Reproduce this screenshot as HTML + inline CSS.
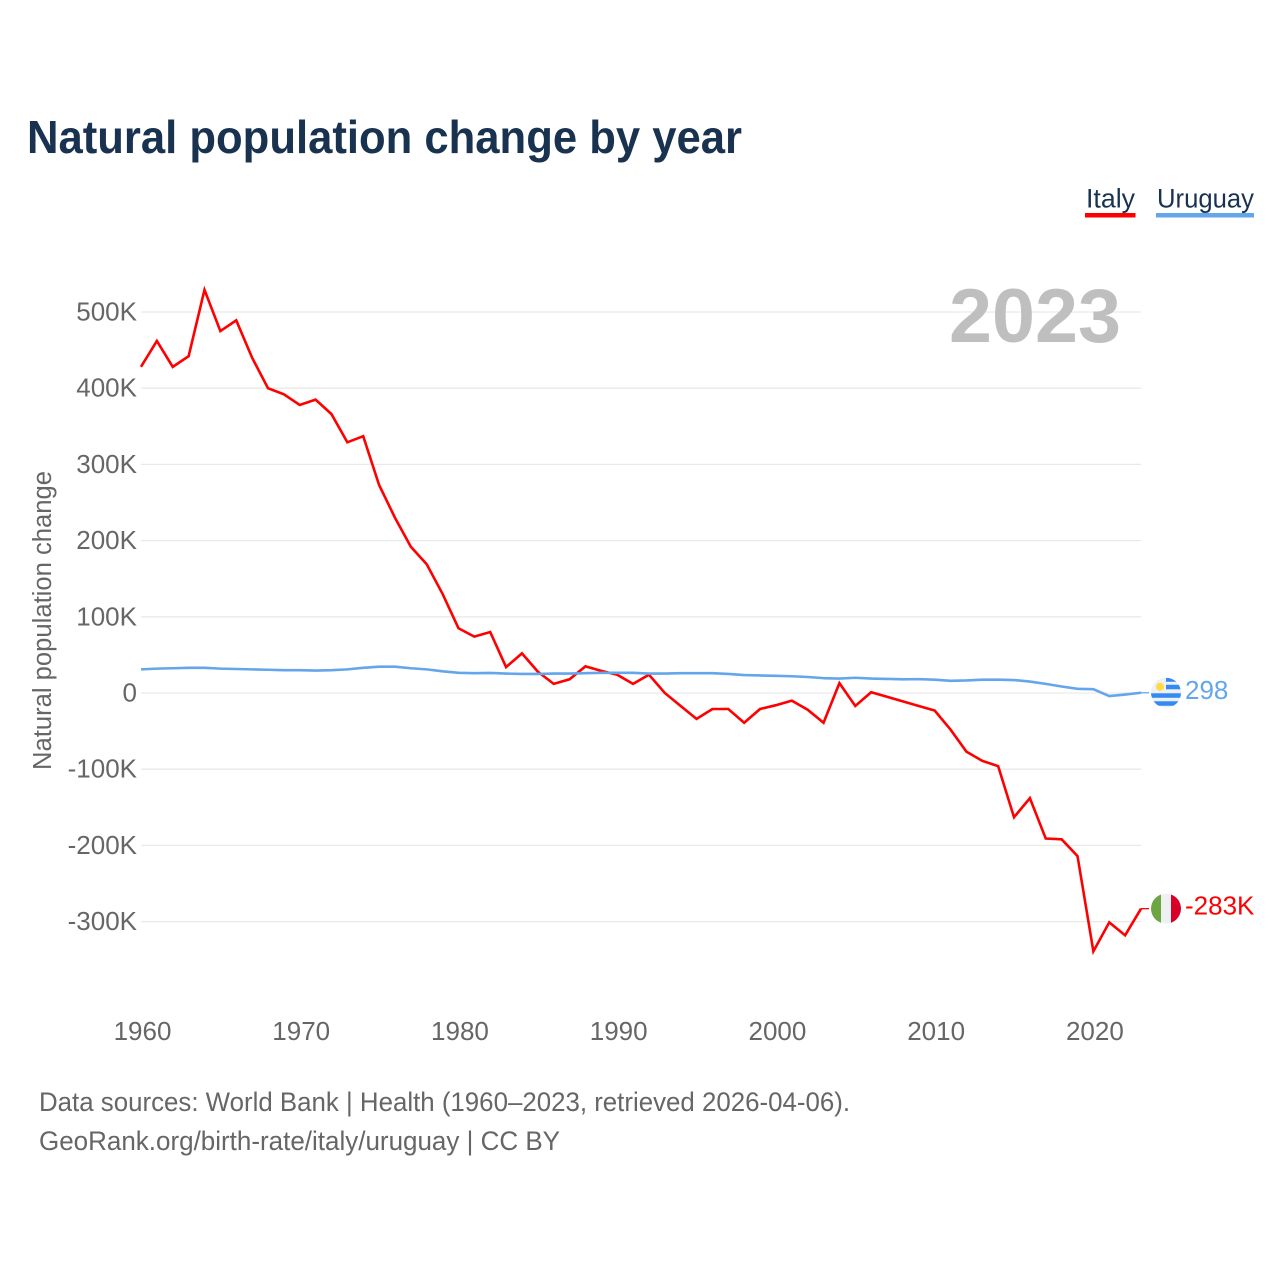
<!DOCTYPE html>
<html lang="en">
<head>
<meta charset="utf-8">
<title>Natural population change by year</title>
<style>
html,body{margin:0;padding:0;background:#fff;width:1280px;height:1280px;overflow:hidden}
svg{display:block}
text{font-family:"Liberation Sans",sans-serif}
</style>
</head>
<body>
<svg id="chart" width="1280" height="1280" viewBox="0 0 1280 1280" xmlns="http://www.w3.org/2000/svg">
  <defs>
    <clipPath id="clip-flag-italy"><circle cx="0" cy="0" r="15"></circle></clipPath>
    <clipPath id="clip-flag-uruguay"><circle cx="0" cy="0" r="15"></circle></clipPath>
  </defs>
  <rect width="1280" height="1280" fill="#ffffff"></rect>
  <text x="27" y="153" font-size="46" font-weight="700" fill="#18324f" textLength="715" lengthAdjust="spacingAndGlyphs">Natural population change by year</text>

  <g>
    <text x="1086" y="207.500" font-size="27" fill="#18324f" textLength="49" lengthAdjust="spacingAndGlyphs">Italy</text>
    <rect x="1085" y="213" width="50.500" height="4.500" fill="#ff0000"></rect>
  </g>
  <g>
    <text x="1157" y="207.500" font-size="27" fill="#18324f" textLength="97" lengthAdjust="spacingAndGlyphs">Uruguay</text>
    <rect x="1156" y="213" width="98" height="4.500" fill="#63a6ec"></rect>
  </g>

  <g id="grid"></g>
  <text x="1121" y="342" text-anchor="end" font-size="76" font-weight="700" fill="#bfbfbf" textLength="172" lengthAdjust="spacingAndGlyphs">2023</text>
  <g id="y-ticks"></g>
  <g id="x-ticks"></g>
  <text transform="translate(51,770) rotate(-90)" font-size="25.500" fill="#666666" textLength="299" lengthAdjust="spacingAndGlyphs">Natural population change</text>
  <g id="series"></g>

  <g id="flag-uruguay">
    <g clip-path="url(#clip-flag-uruguay)">
      <rect x="-15" y="-15" width="30" height="30" fill="#eef0f1"></rect>
      <rect x="0" y="-15" width="15" height="4" fill="#338af3"></rect>
      <rect x="0" y="-8" width="15" height="4.500" fill="#338af3"></rect>
      <rect x="-15" y="0.500" width="30" height="4.500" fill="#338af3"></rect>
      <rect x="-15" y="8.500" width="30" height="4.500" fill="#338af3"></rect>
      <circle cx="-6" cy="-6" r="4" fill="#ffda44"></circle>
    </g>
  </g>
  <g id="flag-italy">
    <g clip-path="url(#clip-flag-italy)">
      <rect x="-15" y="-15" width="10" height="30" fill="#6da544"></rect>
      <rect x="-5" y="-15" width="10" height="30" fill="#eef0f1"></rect>
      <rect x="5" y="-15" width="10" height="30" fill="#d80027"></rect>
    </g>
  </g>

  <text x="39" y="1111" font-size="26.500" fill="#666666" textLength="811" lengthAdjust="spacingAndGlyphs">Data sources: World Bank | Health (1960–2023, retrieved 2026-04-06).</text>
  <text x="39" y="1150" font-size="26.500" fill="#666666" textLength="521" lengthAdjust="spacingAndGlyphs">GeoRank.org/birth-rate/italy/uruguay | CC BY</text>
</svg>
<script>
const startYear = 1960;
const italyValues = [428,462,428,442,529,475,489,440,400,392,378,385,366,329,337,273,230,192,169,130,85,74,80,34,52,28,12,18,35,29,24,12,24,0,-17,-34,-21,-21,-39,-21,-16,-10,-22,-39,13,-17,1,-5,-11,-17,-23,-48,-77,-89,-96,-163,-138,-191,-192,-214,-339,-301,-318,-283];
const uruguayValues = [31,32,32.5,33,33,32,31.5,31,30.5,30,30,29.5,30,31,33,34.5,34.5,32.5,31,28.5,26.5,26,26.3,25.5,25,25,25.5,25.5,26,26.5,26.5,26.5,25.5,25.5,26,26,26,25,23.5,23,22.5,22,21,19.5,19,20,19,18.5,18,18.2,17.5,16,16.5,17.5,17.5,17,15,12,8.5,5.5,5,-4,-2,0.3];
const yTickValues = [500,400,300,200,100,0,-100,-200,-300];
const yTickLabels = ['500K','400K','300K','200K','100K','0','-100K','-200K','-300K'];
const xTickYears = [1960,1970,1980,1990,2000,2010,2020];
const endLabelItaly = '-283K';
const endLabelUruguay = '298';

const SVGNS = 'http://www.w3.org/2000/svg';
function xScale(year){ return 141 + (year - 1960) * (1000 / 63); }
function yScale(value){ return 693 - value * 0.762; }
function make(tag, attrs, parent){
  const el = document.createElementNS(SVGNS, tag);
  for (const k in attrs) el.setAttribute(k, attrs[k]);
  parent.appendChild(el);
  return el;
}
const grid = document.getElementById('grid');
const yTicks = document.getElementById('y-ticks');
yTickValues.forEach(function(v, i){
  const y = yScale(v);
  const line = make('line', {x1:141, x2:1141, y1:y, y2:y, stroke:'#e9e9e9', 'stroke-width':1.3}, grid);
  
  
  const t = make('text', {x:137, y:y + 8.500, 'text-anchor':'end', 'font-size':26, fill:'#666666'}, yTicks);
  t.textContent = yTickLabels[i];
  
  
});
const xTicks = document.getElementById('x-ticks');
xTickYears.forEach(function(yr){
  const t = make('text', {x:xScale(yr) + 1.500, y:1040, 'text-anchor':'middle', 'font-size':26, fill:'#666666'}, xTicks);
  t.textContent = String(yr);
  
  
});
const seriesGroup = document.getElementById('series');
function pathFor(values){
  return values.map(function(v, i){
    return (i ? 'L' : 'M') + xScale(startYear + i).toFixed(2) + ' ' + yScale(v).toFixed(2);
  }).join(' ');
}
const italyPath = make('path', {d:pathFor(italyValues), fill:'none', stroke:'#ff0000', 'stroke-width':2.6, 'stroke-linejoin':'miter'}, seriesGroup);


const uruguayPath = make('path', {d:pathFor(uruguayValues), fill:'none', stroke:'#63a6ec', 'stroke-width':2.6, 'stroke-linejoin':'round'}, seriesGroup);



function endMark(values, color, label, flagId, labelOffset){
  const y = yScale(values[values.length - 1]);
  const lastX = xScale(startYear + values.length - 1);
  const conn = make('line', {x1:lastX, x2:lastX + 8, y1:y, y2:y, stroke:color, 'stroke-width':1.3}, seriesGroup);
  
  
  document.getElementById(flagId).setAttribute('transform', 'translate(1166,' + y.toFixed(2) + ')');
  const t = make('text', {x:1185, y:y + labelOffset, 'font-size':26, fill:color}, seriesGroup);
  t.textContent = label;
  
  
}
endMark(italyValues, '#ff0000', endLabelItaly, 'flag-italy', 6);
endMark(uruguayValues, '#63a6ec', endLabelUruguay, 'flag-uruguay', 6);
</script>
</body>
</html>
